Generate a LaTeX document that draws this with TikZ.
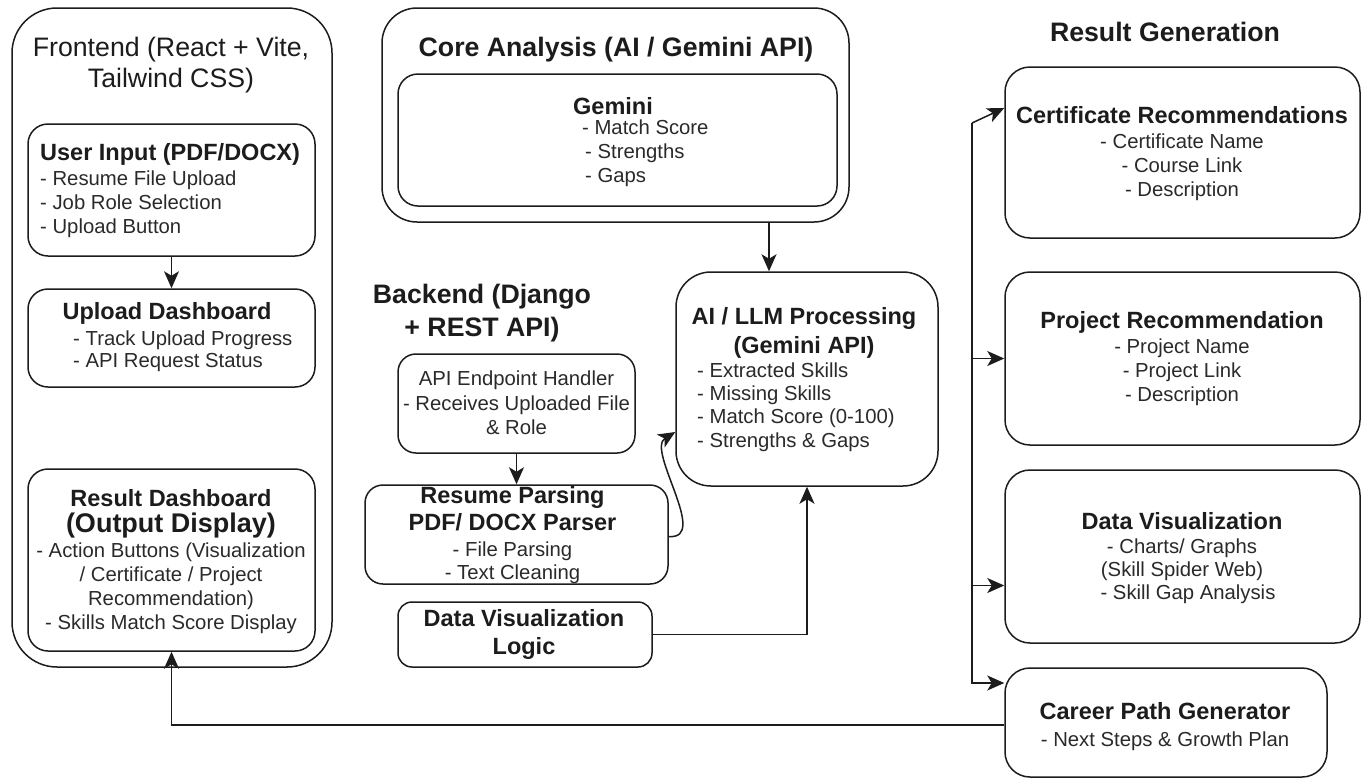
\documentclass[tikz,border=0pt]{standalone}
\usepackage{fontspec}
\setmainfont{Liberation Sans}
\usetikzlibrary{arrows.meta,calc}
\definecolor{ink}{HTML}{1C1C1C}
\definecolor{txtc}{HTML}{2A2A2A}
\begin{document}
\begin{tikzpicture}[x=1pt,y=-1pt,
  box/.style={draw=ink, line width=1.5pt, rounded corners=#1, fill=white, inner sep=0pt},
  box/.default=20pt,
  arr/.style={draw=ink, line width=1.5pt, -{Stealth[length=17pt,width=15pt,inset=4.5pt]}},
  hdr/.style={font=\fontsize{26.7}{33}\selectfont\bfseries, text=ink, inner sep=0pt, align=center},
  ttl/.style={font=\fontsize{23.5}{28}\selectfont\bfseries, text=ink, inner sep=0pt, align=center},
  txt/.style={font=\fontsize{20.3}{24}\selectfont, text=txtc, inner sep=0pt},
]
\useasboundingbox (0,0) rectangle (1363,780);
\fill[white] (0,0) rectangle (1363,780);

% ---------- Frontend ----------
\node[box=45pt, minimum width=320pt, minimum height=659pt] (front) at (172,337.5) {};
\node[font=\fontsize{26.7}{31}\selectfont, text=ink, inner sep=0pt, align=center] (frontT) at (171,65) {Frontend (React + Vite,\\Tailwind CSS)};

\node[box, minimum width=287pt, minimum height=132pt] (userin) at (171.5,190) {};
\node[txt, align=left, anchor=west] (userinT) at (40,191) {{\fontsize{23.5}{24}\selectfont\bfseries\color{ink}User Input (PDF/DOCX)}\\[1pt]- Resume File Upload\\- Job Role Selection\\- Upload Button};

\node[box, minimum width=287pt, minimum height=98pt] (upd) at (171.5,338) {};
\node[ttl] (updT) at (167,313) {Upload Dashboard};
\node[txt, align=left, anchor=west, font=\fontsize{20.3}{22.5}\selectfont] (updL) at (73,351) {- Track Upload Progress\\- API Request Status};

\node[box, minimum width=287pt, minimum height=182pt] (resd) at (171.5,560) {};
\node[txt, align=center] (resdT) at (171,561.5) {{\fontsize{23.5}{24}\selectfont\bfseries\color{ink}Result Dashboard}\\[2pt]{\fontsize{27}{24}\selectfont\bfseries\color{ink}(Output Display)}\\[1pt]- Action Buttons (Visualization\\/ Certificate / Project\\Recommendation)\\- Skills Match Score Display};

% ---------- Core Analysis ----------
\node[box=35pt, minimum width=467pt, minimum height=214pt] (core) at (615.5,115) {};
\node[hdr] (coreT) at (616,50) {Core Analysis (AI / Gemini API)};
\node[box, minimum width=439pt, minimum height=132pt] (gem) at (617.5,140) {};
\node[ttl] (gemT) at (613,106) {Gemini};
\node[txt, align=left, anchor=west] (gemL) at (582,153) {- Match Score\\\hspace{3pt}- Strengths\\\hspace{3pt}- Gaps};

% ---------- AI / LLM ----------
\node[box=35pt, minimum width=262pt, minimum height=214pt] (ai) at (807,379) {};
\node[ttl, font=\fontsize{23.5}{29}\selectfont\bfseries] (aiT) at (804,332.5) {AI / LLM Processing\\(Gemini API)};
\node[txt, align=left, anchor=west, font=\fontsize{20.3}{23.3}\selectfont] (aiL) at (697,407) {- Extracted Skills\\- Missing Skills\\- Match Score (0-100)\\- Strengths \& Gaps};

% ---------- Backend ----------
\node[hdr] (backT) at (482,313.5) {Backend (Django\\+ REST API)};
\node[box=18pt, minimum width=237pt, minimum height=99pt] (api) at (516.5,403.5) {};
\node[txt, align=center, font=\fontsize{20.3}{24.5}\selectfont] (apiT) at (516.5,403) {API Endpoint Handler\\- Receives Uploaded File\\\& Role};

\node[box=18pt, minimum width=303pt, minimum height=99pt] (rp) at (516.5,534.5) {};
\node[txt, align=center, font=\fontsize{20.3}{23}\selectfont] (rpT) at (512.5,535) {{\fontsize{23.5}{24}\selectfont\bfseries\color{ink}Resume Parsing}\\[4pt]{\fontsize{23.5}{24}\selectfont\bfseries\color{ink}PDF/ DOCX Parser}\\[3pt]- File Parsing\\- Text Cleaning};

\node[box=14pt, minimum width=254pt, minimum height=65pt] (dvl) at (525,634.5) {};
\node[ttl] (dvlT) at (524,634) {Data Visualization\\Logic};

% ---------- Result Generation ----------
\node[hdr] (resgT) at (1165,32) {Result Generation};

\node[box=25pt, minimum width=355pt, minimum height=171pt] (cert) at (1182.5,152.5) {};
\node[txt, align=center] (certT) at (1182,154) {{\fontsize{23.5}{24}\selectfont\bfseries\color{ink}Certificate Recommendations}\\[1pt]- Certificate Name\\- Course Link\\- Description};

\node[box=25pt, minimum width=355pt, minimum height=173pt] (proj) at (1182.5,358.5) {};
\node[txt, align=center] (projT) at (1182,359) {{\fontsize{23.5}{24}\selectfont\bfseries\color{ink}Project Recommendation}\\[1pt]- Project Name\\- Project Link\\- Description};

\node[box=25pt, minimum width=355pt, minimum height=173pt] (dv) at (1182.5,556.5) {};
\node[txt, align=center, font=\fontsize{20.3}{23}\selectfont] (dvT) at (1182,558) {{\fontsize{23.5}{24}\selectfont\bfseries\color{ink}Data Visualization}\\[1pt]- Charts/ Graphs\\(Skill Spider Web)\\\hspace{12pt}- Skill Gap Analysis};

\node[box=25pt, minimum width=322pt, minimum height=109pt] (career) at (1166,722.5) {};
\node[txt, align=center, font=\fontsize{20.3}{27}\selectfont] (careerT) at (1165,726.5) {{\fontsize{23.5}{24}\selectfont\bfseries\color{ink}Career Path Generator}\\- Next Steps \& Growth Plan};

% ---------- Connectors ----------
\draw[arr] (userin.south) -- (upd.north);
\coordinate (aiN) at ([xshift=-38pt]ai.north);
\draw[arr] (aiN |- core.south) -- (aiN);
\draw[arr] (api.south) -- (rp.north);
\coordinate (aiW) at ([yshift=-53pt]ai.west);
\draw[arr] ([yshift=-2pt]rp.east) .. controls (710,540) and (646,450) .. (aiW);
\draw[arr] (dvl.east) -| (ai.south);

\coordinate (bus1) at (972,123);
\coordinate (bus2) at (972,683);
\coordinate (certIn) at ([yshift=44.5pt]cert.west);
\coordinate (dvIn) at ([yshift=-29pt]dv.west);
\coordinate (careerIn) at ([yshift=39.5pt]career.west);
\draw[arr] (bus1) -- (certIn);
\draw[arr] (bus1) -- (bus2) -- (careerIn);
\draw[arr] (bus1 |- proj.west) -- (proj.west);
\draw[arr] (bus1 |- dvIn) -- (dvIn);

\draw[arr] ([yshift=-2.5pt]career.west) -| (resd.south);
\end{tikzpicture}
\end{document}
